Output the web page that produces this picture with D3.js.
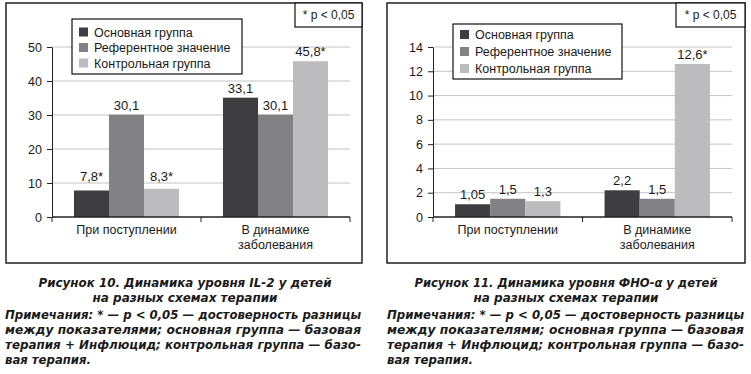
<!DOCTYPE html>
<html>
<head>
<meta charset="utf-8">
<script src="https://cdn.jsdelivr.net/npm/d3@7"></script>
<style>
  body { margin: 0; background: #fff; }
  svg { display: block; }
  .cap { font-family: "Liberation Sans Narrow", "DejaVu Sans Condensed", "Liberation Sans", sans-serif; font-weight: bold; font-style: italic; font-size: 13px; fill: #1a1a1a; }
  .chart text { font-family: "Liberation Sans", Arial, sans-serif; fill: #1a1a1a; }
</style>
</head>
<body>
<div id="chart"></div>
<script>
// данные
const groups = ["При поступлении", "В динамике заболевания"];
const groupLines = [["При поступлении"], ["В динамике", "заболевания"]];
const seriesNames = ["Основная группа", "Референтное значение", "Контрольная группа"];
const seriesColors = ["#3e3e40", "#828284", "#bcbcbf"];

const il2Values = [[7.8, 30.1, 8.3], [35.1, 30.1, 45.8]];
const il2Labels = [["7,8*", "30,1", "8,3*"], ["33,1", "30,1", "45,8*"]];
const il2Ticks = [0, 10, 20, 30, 40, 50];

const tnfValues = [[1.05, 1.5, 1.3], [2.2, 1.5, 12.6]];
const tnfLabels = [["1,05", "1,5", "1,3"], ["2,2", "1,5", "12,6*"]];
const tnfTicks = [0, 2, 4, 6, 8, 10, 12, 14];

const noteLines = [
    "Примечания: * — p < 0,05 — достоверность разницы",
    "между показателями; основная группа — базовая",
    "терапия + Инфлюцид; контрольная группа — базо-",
    "вая терапия."
];

const svg = d3.select("#chart")
    .append("svg")
    .attr("width", 751)
    .attr("height", 374);

function drawPanel(opt) {
    const g = svg.append("g").attr("class", "chart");

    // рамка панели
    g.append("rect")
        .attr("x", opt.box[0]).attr("y", opt.box[1])
        .attr("width", opt.box[2] - opt.box[0]).attr("height", opt.box[3] - opt.box[1])
        .attr("fill", "none").attr("stroke", "#111").attr("stroke-width", 1.4);

    const y = d3.scaleLinear().domain([0, d3.max(opt.ticks)]).range([217, 47]);
    const x0 = d3.scaleBand().domain(groups).range([opt.left, opt.right])
        .paddingInner(0.295).paddingOuter(0.1475);
    const x1 = d3.scaleBand().domain(seriesNames).range([0, x0.bandwidth()]);

    // сетка
    g.append("g").selectAll("line")
        .data(opt.ticks.slice(1))
        .join("line")
        .attr("x1", opt.left).attr("x2", opt.right)
        .attr("y1", d => y(d)).attr("y2", d => y(d))
        .attr("stroke", "#c4c4c4").attr("stroke-width", 1);

    // ось Y
    const yAxis = g.append("g")
        .attr("transform", `translate(${opt.left},0)`)
        .call(d3.axisLeft(y).tickValues(opt.ticks).tickSize(5).tickSizeOuter(0).tickPadding(5));
    yAxis.select(".domain").attr("stroke", "#222");
    yAxis.selectAll(".tick line").attr("stroke", "#222");
    yAxis.selectAll("text").attr("font-size", 12.5).attr("fill", "#1a1a1a")
        .attr("font-family", "Liberation Sans, Arial, sans-serif");

    // столбцы
    const bars = g.append("g").selectAll("g")
        .data(groups)
        .join("g")
        .attr("transform", d => `translate(${x0(d)},0)`);

    bars.selectAll("rect")
        .data((d, i) => opt.values[i].map((v, j) => ({ v, j })))
        .join("rect")
        .attr("x", d => x1(seriesNames[d.j]))
        .attr("width", x1.bandwidth())
        .attr("y", d => y(d.v))
        .attr("height", d => y(0) - y(d.v))
        .attr("fill", d => seriesColors[d.j]);

    bars.selectAll("text")
        .data((d, i) => opt.values[i].map((v, j) => ({ v, j, i, t: opt.labels[i][j] })))
        .join("text")
        .attr("x", d => x1(seriesNames[d.j]) + x1.bandwidth() / 2)
        .attr("y", d => Math.min(y(d.v) - 5, opt.labelMaxY[d.i]))
        .attr("text-anchor", "middle")
        .attr("font-size", 13)
        .text(d => d.t);

    // ось X
    g.append("line")
        .attr("x1", opt.left).attr("x2", opt.right)
        .attr("y1", y(0)).attr("y2", y(0))
        .attr("stroke", "#222").attr("stroke-width", 1.3);
    const step = x0.step();
    const edges = [opt.left, opt.left + step, opt.right];
    g.append("g").selectAll("line")
        .data(edges)
        .join("line")
        .attr("x1", d => d).attr("x2", d => d)
        .attr("y1", y(0)).attr("y2", y(0) + 5)
        .attr("stroke", "#222");

    groups.forEach((grp, i) => {
        const cx = x0(grp) + x0.bandwidth() / 2;
        groupLines[i].forEach((line, k) => {
            g.append("text")
                .attr("x", cx).attr("y", 234 + k * 15)
                .attr("text-anchor", "middle")
                .attr("font-size", 12.5)
                .text(line);
        });
    });

    // легенда
    const lg = opt.legend;
    g.append("rect")
        .attr("x", lg[0]).attr("y", lg[1])
        .attr("width", lg[2] - lg[0]).attr("height", lg[3] - lg[1])
        .attr("fill", "#fff").attr("stroke", "#111").attr("stroke-width", 1.2);
    seriesNames.forEach((name, i) => {
        const cy = lg[1] + opt.legendFirst + i * opt.legendStep;
        g.append("rect")
            .attr("x", lg[0] + 7).attr("y", cy - 4.5)
            .attr("width", 9).attr("height", 9)
            .attr("fill", seriesColors[i]);
        g.append("text")
            .attr("x", lg[0] + 22).attr("y", cy + 4.5)
            .attr("font-size", 12.5)
            .text(name);
    });

    // плашка p < 0,05
    const pb = opt.pbox;
    g.append("rect")
        .attr("x", pb[0]).attr("y", pb[1])
        .attr("width", pb[2] - pb[0]).attr("height", pb[3] - pb[1])
        .attr("fill", "#fff").attr("stroke", "#111").attr("stroke-width", 1.2);
    g.append("text")
        .attr("x", (pb[0] + pb[2]) / 2).attr("y", pb[1] + 16)
        .attr("text-anchor", "middle")
        .attr("font-size", 12)
        .text("* p < 0,05");

    // подпись рисунка
    const c = svg.append("g");
    const cx = (opt.box[0] + opt.box[2]) / 2 + opt.titleShift;
    c.append("text").attr("class", "cap")
        .attr("x", cx).attr("y", 287).attr("text-anchor", "middle")
        .attr("textLength", opt.titleLen[0]).attr("lengthAdjust", "spacingAndGlyphs")
        .text(opt.title);
    c.append("text").attr("class", "cap")
        .attr("x", cx).attr("y", 302).attr("text-anchor", "middle")
        .attr("textLength", opt.titleLen[1]).attr("lengthAdjust", "spacingAndGlyphs")
        .text("на разных схемах терапии");
    noteLines.forEach((line, i) => {
        const last = i === noteLines.length - 1;
        c.append("text").attr("class", "cap")
            .attr("x", opt.capX[0]).attr("y", 319 + i * 15)
            .attr("textLength", last ? 86 : opt.capX[1] - opt.capX[0])
            .attr("lengthAdjust", "spacingAndGlyphs")
            .text(line);
    });
}

drawPanel({
    box: [6, 3, 362, 263],
    left: 52, right: 350,
    ticks: il2Ticks, values: il2Values, labels: il2Labels,
    labelMaxY: [181, 999],
    legend: [72, 19, 242, 74], legendFirst: 13, legendStep: 15.5,
    pbox: [295, 3, 362, 27],
    title: "Рисунок 10. Динамика уровня IL-2 у детей",
    titleShift: 1, titleLen: [293, 185],
    capX: [5, 361]
});

drawPanel({
    box: [387, 3, 745, 263],
    left: 433, right: 732,
    ticks: tnfTicks, values: tnfValues, labels: tnfLabels,
    labelMaxY: [999, 999],
    legend: [453, 24, 622, 79], legendFirst: 10.5, legendStep: 17,
    pbox: [676, 3, 745, 27],
    title: "Рисунок 11. Динамика уровня ФНО-α у детей",
    titleShift: 0, titleLen: [303, 185],
    capX: [387, 744]
});
</script>
</body>
</html>
